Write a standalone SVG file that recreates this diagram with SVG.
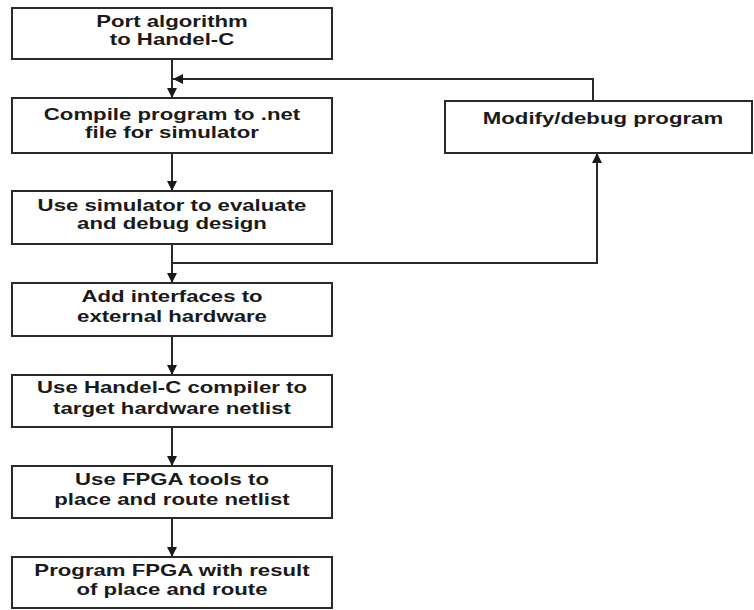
<svg xmlns="http://www.w3.org/2000/svg" width="754" height="610" viewBox="0 0 754 610">
<style>
.box{fill:#fff;stroke:#2a2a2a;stroke-width:2}
.lbl{font-family:"Liberation Sans",Arial,sans-serif;font-weight:bold;font-size:16.5px;fill:#1a1a1a;text-anchor:middle}
.con{fill:none;stroke:#2a2a2a;stroke-width:2}
</style>
<defs>
<marker id="ah" viewBox="0 0 10 10" refX="10" refY="5" markerWidth="10" markerHeight="10" markerUnits="userSpaceOnUse" orient="auto">
<path d="M0,0 L10,5 L0,10 Z" fill="#1a1a1a"/>
</marker>
</defs>
<rect width="754" height="610" fill="#fff"/>
<g id="connectors">
<line class="con" x1="172" y1="59" x2="172" y2="98" marker-end="url(#ah)"/>
<polyline class="con" points="593,101 593,79 173,79" marker-end="url(#ah)"/>
<line class="con" x1="172" y1="153" x2="172" y2="191" marker-end="url(#ah)"/>
<line class="con" x1="172" y1="244" x2="172" y2="283" marker-end="url(#ah)"/>
<polyline class="con" points="172,263 597,263 597,153" marker-end="url(#ah)"/>
<line class="con" x1="172" y1="336" x2="172" y2="375" marker-end="url(#ah)"/>
<line class="con" x1="172" y1="427" x2="172" y2="466" marker-end="url(#ah)"/>
<line class="con" x1="172" y1="518" x2="172" y2="557" marker-end="url(#ah)"/>
</g>
<g id="n1">
<rect class="box" x="12" y="8" width="320" height="51"/>
<text class="lbl" transform="translate(172,27) scale(1.345,1)">Port algorithm</text>
<text class="lbl" transform="translate(172,45) scale(1.345,1)">to Handel-C</text>
</g>
<g id="n2">
<rect class="box" x="12" y="98" width="320" height="55"/>
<text class="lbl" transform="translate(172,120) scale(1.345,1)">Compile program to .net</text>
<text class="lbl" transform="translate(172,138) scale(1.345,1)">file for simulator</text>
</g>
<g id="n3">
<rect class="box" x="12" y="191" width="320" height="53"/>
<text class="lbl" transform="translate(172,211) scale(1.345,1)">Use simulator to evaluate</text>
<text class="lbl" transform="translate(172,229) scale(1.345,1)">and debug design</text>
</g>
<g id="n4">
<rect class="box" x="12" y="283" width="320" height="53"/>
<text class="lbl" transform="translate(172,302) scale(1.345,1)">Add interfaces to</text>
<text class="lbl" transform="translate(172,322) scale(1.345,1)">external hardware</text>
</g>
<g id="n5">
<rect class="box" x="12" y="375" width="320" height="52"/>
<text class="lbl" transform="translate(172,393) scale(1.345,1)">Use Handel-C compiler to</text>
<text class="lbl" transform="translate(172,414) scale(1.345,1)">target hardware netlist</text>
</g>
<g id="n6">
<rect class="box" x="12" y="466" width="320" height="52"/>
<text class="lbl" transform="translate(172,485) scale(1.345,1)">Use FPGA tools to</text>
<text class="lbl" transform="translate(172,505) scale(1.345,1)">place and route netlist</text>
</g>
<g id="n7">
<rect class="box" x="12" y="557" width="320" height="51"/>
<text class="lbl" transform="translate(172,576) scale(1.345,1)">Program FPGA with result</text>
<text class="lbl" transform="translate(172,595) scale(1.345,1)">of place and route</text>
</g>
<g id="n8">
<rect class="box" x="445" y="101" width="307" height="52"/>
<text class="lbl" transform="translate(603,124) scale(1.345,1)">Modify/debug program</text>
</g>
</svg>
